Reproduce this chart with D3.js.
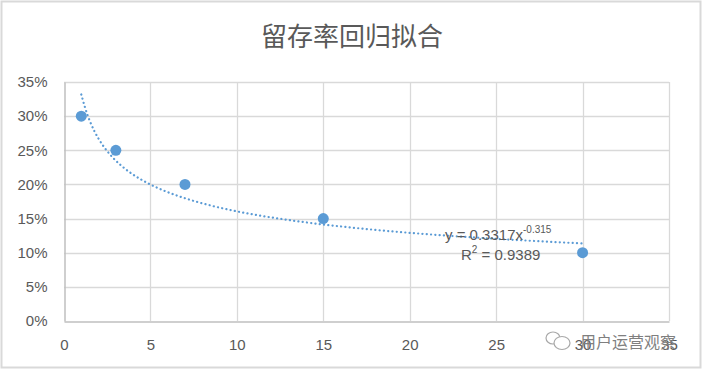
<!DOCTYPE html>
<html>
<head>
<meta charset="utf-8">
<script src="https://cdn.jsdelivr.net/npm/d3@7/dist/d3.min.js"></script>
<style>
  body { margin: 0; background: #fff; }
  text { font-family: "Noto Sans CJK SC", "Liberation Sans", sans-serif; fill: #595959; }
</style>
</head>
<body>
<div id="chart-area"></div>
<script>
// data
var days = [1, 3, 7, 15, 30];
var retention = [0.30, 0.25, 0.20, 0.15, 0.10];
var xTicks = [0, 5, 10, 15, 20, 25, 30, 35];
var yTicks = [0, 0.05, 0.10, 0.15, 0.20, 0.25, 0.30, 0.35];
// power trendline coefficients from the label
var fitA = 0.3317;
var fitB = -0.315;
var fitR2 = "0.9389";

var width = 703;
var height = 370;
var blue = "#5b9bd5";

var svg = d3.select("#chart-area")
    .append("svg")
    .attr("width", width)
    .attr("height", height);

// outer frame
svg.append("rect")
    .attr("x", 1.5).attr("y", 1.5)
    .attr("width", width - 4).attr("height", height - 4)
    .attr("fill", "#fff")
    .attr("stroke", "#d9d9d9")
    .attr("stroke-width", 2);

svg.append("text")
    .attr("x", 352)
    .attr("y", 46)
    .attr("text-anchor", "middle")
    .attr("font-size", "26px")
    .text("留存率回归拟合");

var x = d3.scaleLinear().domain([0, 35]).range([64, 669]);
var y = d3.scaleLinear().domain([0, 0.35]).range([321, 82]);

// gridlines
svg.append("g").selectAll("line.h")
    .data(yTicks.slice(1))
    .enter().append("line")
    .attr("x1", x(0)).attr("x2", x(35))
    .attr("y1", function(d) { return Math.round(y(d)) + 0.5; })
    .attr("y2", function(d) { return Math.round(y(d)) + 0.5; })
    .attr("stroke", "#d9d9d9").attr("stroke-width", 1.3);

svg.append("g").selectAll("line.v")
    .data(xTicks.slice(1))
    .enter().append("line")
    .attr("y1", y(0)).attr("y2", y(0.35))
    .attr("x1", function(d) { return Math.round(x(d)) + 0.5; })
    .attr("x2", function(d) { return Math.round(x(d)) + 0.5; })
    .attr("stroke", "#d9d9d9").attr("stroke-width", 1.3);

// axes
var xAxisCall = d3.axisBottom(x).tickValues(xTicks).tickSize(0).tickPadding(18);
var xAxisGroup = svg.append("g")
    .attr("transform", "translate(0," + (Math.round(y(0)) + 0.5) + ")")
    .call(xAxisCall);

var yAxisCall = d3.axisLeft(y).tickValues(yTicks).tickSize(0).tickPadding(17)
    .tickFormat(d3.format(".0%"));
var yAxisGroup = svg.append("g")
    .attr("transform", "translate(" + (Math.round(x(0)) + 0.5) + ",0)")
    .call(yAxisCall);

[xAxisGroup, yAxisGroup].forEach(function(gr) {
    gr.select(".domain").attr("stroke", "#bfbfbf").attr("stroke-width", 1.5);
    gr.selectAll("text")
        .attr("font-size", "15px")
        .attr("fill", "#595959")
        .style("font-family", "\"Liberation Sans\", sans-serif");
});

// trendline
var fitX = d3.range(1, 30.01, 0.25);
var line = d3.line()
    .x(function(d) { return x(d); })
    .y(function(d) { return y(fitA * Math.pow(d, fitB)); })
    .curve(d3.curveBasis);

svg.append("path")
    .datum(fitX)
    .attr("d", line)
    .attr("fill", "none")
    .attr("stroke", blue)
    .attr("stroke-width", 2.2)
    .attr("stroke-linecap", "round")
    .attr("stroke-dasharray", "0.1,4.2");

// points
svg.append("g").selectAll("circle")
    .data(days)
    .enter().append("circle")
    .attr("cx", function(d) { return x(d); })
    .attr("cy", function(d, i) { return y(retention[i]); })
    .attr("r", 5.5)
    .attr("fill", blue);

// trendline label
var eq = svg.append("text")
    .attr("x", 445)
    .attr("y", 240)
    .attr("font-size", "15px")
    .style("font-family", "\"Liberation Sans\", sans-serif");
eq.append("tspan").text("y = " + fitA + "x");
eq.append("tspan").attr("dy", -7).attr("font-size", "10px").text(String(fitB));

var r2 = svg.append("text")
    .attr("x", 461)
    .attr("y", 260)
    .attr("font-size", "15px")
    .style("font-family", "\"Liberation Sans\", sans-serif");
r2.append("tspan").text("R");
r2.append("tspan").attr("dy", -7).attr("font-size", "10px").text("2");
r2.append("tspan").attr("dy", 7).text(" = " + fitR2);

// watermark
var wm = svg.append("g").attr("transform", "translate(553,340)").attr("opacity", 0.85);
wm.append("ellipse").attr("cx", 0).attr("cy", -2).attr("rx", 7).attr("ry", 6)
    .attr("fill", "none").attr("stroke", "#9a9a9a").attr("stroke-width", 1.2);
wm.append("ellipse").attr("cx", 9).attr("cy", 3).attr("rx", 8).attr("ry", 6.5)
    .attr("fill", "#fff").attr("stroke", "#9a9a9a").attr("stroke-width", 1.2);
svg.append("text")
    .attr("x", 580)
    .attr("y", 348)
    .attr("font-size", "16px")
    .style("fill", "#7f7f7f")
    .text("用户运营观察");
</script>
</body>
</html>
